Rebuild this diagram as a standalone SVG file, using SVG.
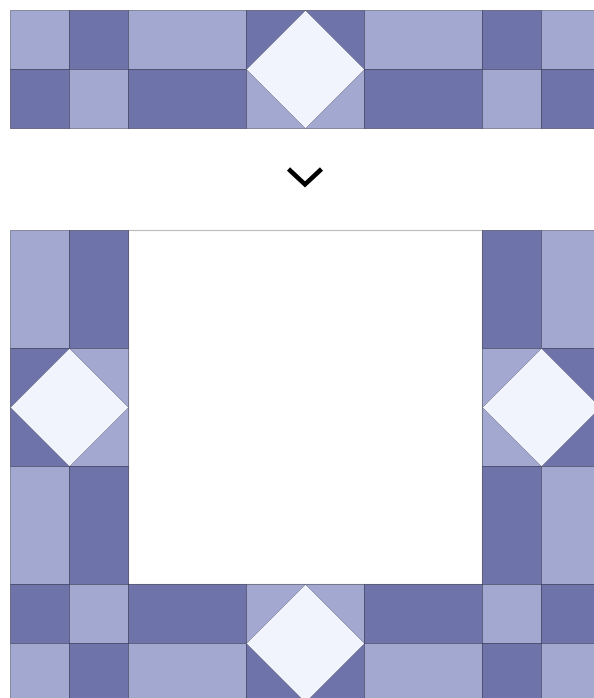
<svg xmlns="http://www.w3.org/2000/svg" width="594" height="698" viewBox="0 0 594 698">
<style>
.l{fill:#a3a8d0;stroke:#2c2e4a;stroke-opacity:0.45;stroke-width:1}
.d{fill:#6e74a9;stroke:#2c2e4a;stroke-opacity:0.55;stroke-width:1}
.w{fill:#f1f4fd;stroke:#2c2e4a;stroke-opacity:0.35;stroke-width:0.8}
.c{fill:#ffffff;stroke:#bdbdbd;stroke-width:1.2}
.arrow{fill:none;stroke:#000;stroke-width:4.5;stroke-linejoin:miter}
</style>
<rect width="594" height="698" fill="#ffffff"/>
<g id="top-strip">
  <rect class="l" x="10.5" y="10.5" width="59" height="59"/>
  <rect class="d" x="10.5" y="69.5" width="59" height="59"/>
  <rect class="d" x="69.5" y="10.5" width="59" height="59"/>
  <rect class="l" x="69.5" y="69.5" width="59" height="59"/>
  <rect class="l" x="128.5" y="10.5" width="118" height="59"/>
  <rect class="d" x="128.5" y="69.5" width="118" height="59"/>
  <g id="top-diamond">
    <polygon class="d" points="246.5,10.5 305.5,10.5 246.5,69.5"/>
    <polygon class="d" points="305.5,10.5 364.5,10.5 364.5,69.5"/>
    <polygon class="l" points="246.5,69.5 305.5,128.5 246.5,128.5"/>
    <polygon class="l" points="364.5,69.5 364.5,128.5 305.5,128.5"/>
    <polygon class="w" points="305.5,10.5 364.5,69.5 305.5,128.5 246.5,69.5"/>
  </g>
  <rect class="l" x="364.5" y="10.5" width="118" height="59"/>
  <rect class="d" x="364.5" y="69.5" width="118" height="59"/>
  <rect class="d" x="482.5" y="10.5" width="59" height="59"/>
  <rect class="l" x="482.5" y="69.5" width="59" height="59"/>
  <rect class="l" x="541.5" y="10.5" width="59" height="59"/>
  <rect class="d" x="541.5" y="69.5" width="59" height="59"/>
</g>
<g id="connectors">
  <polyline class="arrow" points="288.5,169 305,184.5 321.5,169"/>
</g>
<g id="frame">
  <g id="center">
    <rect class="c" x="128.5" y="230.5" width="354" height="354"/>
  </g>
  <g id="left-column">
    <rect class="l" x="10.5" y="230.5" width="59" height="118"/>
    <rect class="d" x="69.5" y="230.5" width="59" height="118"/>
    <g id="left-diamond">
      <polygon class="d" points="10.5,348.5 69.5,348.5 10.5,407.5"/>
      <polygon class="l" points="69.5,348.5 128.5,348.5 128.5,407.5"/>
      <polygon class="d" points="10.5,407.5 69.5,466.5 10.5,466.5"/>
      <polygon class="l" points="128.5,407.5 128.5,466.5 69.5,466.5"/>
      <polygon class="w" points="69.5,348.5 128.5,407.5 69.5,466.5 10.5,407.5"/>
    </g>
    <rect class="l" x="10.5" y="466.5" width="59" height="118"/>
    <rect class="d" x="69.5" y="466.5" width="59" height="118"/>
  </g>
  <g id="right-column">
    <rect class="d" x="482.5" y="230.5" width="59" height="118"/>
    <rect class="l" x="541.5" y="230.5" width="59" height="118"/>
    <g id="right-diamond">
      <polygon class="l" points="482.5,348.5 541.5,348.5 482.5,407.5"/>
      <polygon class="d" points="541.5,348.5 600.5,348.5 600.5,407.5"/>
      <polygon class="l" points="482.5,407.5 541.5,466.5 482.5,466.5"/>
      <polygon class="d" points="600.5,407.5 600.5,466.5 541.5,466.5"/>
      <polygon class="w" points="541.5,348.5 600.5,407.5 541.5,466.5 482.5,407.5"/>
    </g>
    <rect class="d" x="482.5" y="466.5" width="59" height="118"/>
    <rect class="l" x="541.5" y="466.5" width="59" height="118"/>
  </g>
  <g id="bottom-strip">
    <rect class="d" x="10.5" y="584.5" width="59" height="59"/>
    <rect class="l" x="10.5" y="643.5" width="59" height="59"/>
    <rect class="l" x="69.5" y="584.5" width="59" height="59"/>
    <rect class="d" x="69.5" y="643.5" width="59" height="59"/>
    <rect class="d" x="128.5" y="584.5" width="118" height="59"/>
    <rect class="l" x="128.5" y="643.5" width="118" height="59"/>
    <g id="bottom-diamond">
      <polygon class="l" points="246.5,584.5 305.5,584.5 246.5,643.5"/>
      <polygon class="l" points="305.5,584.5 364.5,584.5 364.5,643.5"/>
      <polygon class="d" points="246.5,643.5 305.5,702.5 246.5,702.5"/>
      <polygon class="d" points="364.5,643.5 364.5,702.5 305.5,702.5"/>
      <polygon class="w" points="305.5,584.5 364.5,643.5 305.5,702.5 246.5,643.5"/>
    </g>
    <rect class="d" x="364.5" y="584.5" width="118" height="59"/>
    <rect class="l" x="364.5" y="643.5" width="118" height="59"/>
    <rect class="l" x="482.5" y="584.5" width="59" height="59"/>
    <rect class="d" x="482.5" y="643.5" width="59" height="59"/>
    <rect class="d" x="541.5" y="584.5" width="59" height="59"/>
    <rect class="l" x="541.5" y="643.5" width="59" height="59"/>
  </g>
</g>
</svg>
